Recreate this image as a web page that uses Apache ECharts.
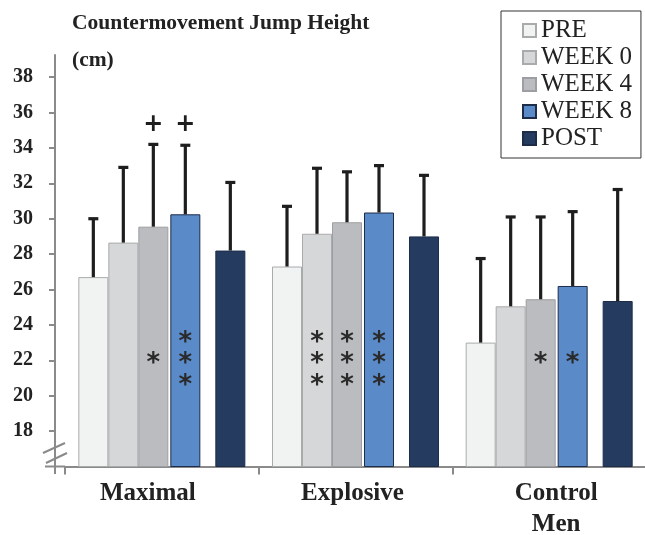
<!DOCTYPE html>
<html><head><meta charset="utf-8">
<script src="https://cdn.jsdelivr.net/npm/echarts@6/dist/echarts.min.js"></script>
<style>html,body{margin:0;padding:0;background:#fff}#c{width:645px;height:535px}</style>
</head><body><div id="c"></div>
<script>
// ---- data ----
const groups = ['Maximal', 'Explosive', 'Control\nMen'];
const seriesNames = ['PRE', 'WEEK 0', 'WEEK 4', 'WEEK 8', 'POST'];
const preMean   = [26.7, 27.3, 23.0];
const week0Mean = [28.65, 29.15, 25.05];
const week4Mean = [29.55, 29.8, 25.45];
const week8Mean = [30.25, 30.35, 26.2];
const postMean  = [28.2, 29.0, 25.35];
const preSD   = [3.3, 3.4, 4.75];
const week0SD = [4.25, 3.7, 5.05];
const week4SD = [4.65, 2.85, 4.65];
const week8SD = [3.9, 2.65, 4.2];
const postSD  = [3.85, 3.45, 6.3];
const yTickValues = [18, 20, 22, 24, 26, 28, 30, 32, 34, 36, 38];
// significance annotations: [groupIndex, seriesIndex, number of asterisks]
const asteriskMarks = [[0, 2, 1], [0, 3, 3], [1, 1, 3], [1, 2, 3], [1, 3, 3], [2, 2, 1], [2, 3, 1]];
// "+" annotations: [groupIndex, seriesIndex]
const plusMarks = [[0, 2], [0, 3]];
const asteriskLevel = 22.15;

// ---- styles ----
const means = [preMean, week0Mean, week4Mean, week8Mean, postMean];
const sds = [preSD, week0SD, week4SD, week8SD, postSD];
const fills = ['#f1f2f2', '#d6d7d9', '#bbbcbf', '#5a8ac7', '#253b5f'];
const borders = ['#a9aaac', '#a9aaac', '#9d9ea1', '#1d2c48', '#1d2c48'];
// slot layout: PRE, W0, W4, spacer, W8, spacer, POST
const slotWidths = [30, 30, 30, 2, 30, 15, 30];
const slotSeries = [0, 1, 2, -1, 3, -1, 4];
const total = slotWidths.reduce((a, b) => a + b, 0);
const offsets = [];
let acc = -total / 2;
slotWidths.forEach((w, i) => { if (slotSeries[i] >= 0) offsets[slotSeries[i]] = acc + w / 2; acc += w; });

const series = [];
slotWidths.forEach((w, i) => {
  const s = slotSeries[i];
  if (s < 0) {
    series.push({ type: 'bar', name: 'spacer' + i, data: groups.map(() => '-'), barWidth: w, barGap: '0%', silent: true });
  } else {
    series.push({
      type: 'bar', name: seriesNames[s], data: means[s], barWidth: w, barGap: '0%',
      itemStyle: { color: fills[s], borderColor: borders[s], borderWidth: 1 }
    });
  }
});

const errData = [];
means.forEach((m, s) => m.forEach((v, g) => errData.push([g, s, v, sds[s][g]])));
series.push({
  type: 'custom', name: 'err', data: errData, encode: { x: 0, y: 2 }, z: 5, silent: true,
  renderItem(params, api) {
    const g = api.value(0), s = api.value(1), m = api.value(2), sd = api.value(3);
    const b = api.coord([g, m]);
    const t = api.coord([g, m + sd]);
    const x = b[0] + offsets[s];
    const st = { stroke: '#1e1e1e', lineWidth: 3.2 };
    return { type: 'group', children: [
      { type: 'line', shape: { x1: x, y1: b[1], x2: x, y2: t[1] }, style: st },
      { type: 'line', shape: { x1: x - 5, y1: t[1], x2: x + 5, y2: t[1] }, style: st }
    ] };
  }
});

series.push({
  type: 'custom', name: 'ast', data: asteriskMarks.map(a => [a[0], a[1], a[2], asteriskLevel]),
  encode: { x: 0, y: 3 }, z: 6, silent: true,
  renderItem(params, api) {
    const g = api.value(0), s = api.value(1), n = api.value(2);
    const p = api.coord([g, api.value(3)]);
    return { type: 'text', x: p[0] + offsets[s], y: p[1] + 7,
      style: { text: Array(n).fill('*').join('\n'), font: 'bold 26px "DejaVu Sans"', fill: '#2a2a2a',
        align: 'center', verticalAlign: 'middle', lineHeight: 21.5 } };
  }
});

series.push({
  type: 'custom', name: 'plus', data: plusMarks.map(a => [a[0], a[1], means[a[1]][a[0]] + sds[a[1]][a[0]]]),
  encode: { x: 0, y: 2 }, z: 6, silent: true,
  renderItem(params, api) {
    const g = api.value(0), s = api.value(1);
    const p = api.coord([g, api.value(2)]);
    return { type: 'text', x: p[0] + offsets[s], y: p[1] - 20,
      style: { text: '+', font: 'bold 24px "DejaVu Sans"', fill: '#1e1e1e', align: 'center', verticalAlign: 'middle' } };
  }
});

const labelFont = { fontFamily: 'Liberation Serif', fontWeight: 'bold', fontSize: 25, lineHeight: 31, color: '#222' };

const chart = echarts.init(document.getElementById('c'), null, { renderer: 'canvas' });
chart.setOption({
  animation: false,
  backgroundColor: '#fff',
  title: {
    text: 'Countermovement Jump Height\n(cm)', left: 67, top: 0,
    textStyle: { fontFamily: 'Liberation Serif', fontWeight: 'bold', fontSize: 21.5, lineHeight: 37, color: '#222' }
  },
  legend: {
    data: seriesNames, orient: 'vertical', left: 501, top: 11, icon: 'rect', itemWidth: 13, itemHeight: 13,
    itemGap: 2, padding: [7, 9, 7, 21], borderColor: '#333', borderWidth: 1, backgroundColor: '#fff',
    textStyle: { fontFamily: 'Liberation Serif', fontSize: 25, lineHeight: 24, color: '#222' },
    selectedMode: false
  },
  grid: { left: 65, width: 581, top: 55, bottom: 68.5, containLabel: false, outerBoundsMode: 'none' },
  xAxis: {
    type: 'category', data: groups,
    axisLine: { lineStyle: { color: '#8a8a8a', width: 2 } },
    axisTick: { show: true, interval: 0, length: 8, lineStyle: { color: '#8a8a8a', width: 2 } },
    axisLabel: Object.assign({}, labelFont, {
      margin: 12, interval: 0, hideOverlap: false,
      formatter: (v, i) => v.split('\n').map(line => '{k' + i + '|' + line + '}').join('\n'),
      rich: {
        k0: Object.assign({}, labelFont, { padding: [0, 28, 0, 0] }),
        k1: Object.assign({}, labelFont, { padding: [0, 6, 0, 0] }),
        k2: Object.assign({}, labelFont, { padding: [0, 0, 0, 14] })
      }
    })
  },
  yAxis: {
    type: 'value', min: 16, max: 39.25, offset: 10,
    axisLine: { show: true, lineStyle: { color: '#8a8a8a', width: 2 } },
    axisTick: { show: true, length: 6, customValues: yTickValues, lineStyle: { color: '#8a8a8a', width: 2 } },
    axisLabel: { customValues: yTickValues, fontFamily: 'Liberation Serif', fontWeight: 'bold', fontSize: 20, color: '#222', margin: 22 },
    splitLine: { show: false }
  },
  graphic: [
    { type: 'line', shape: { x1: 45, y1: 466.5, x2: 65, y2: 466.5 }, style: { stroke: '#8a8a8a', lineWidth: 2 } },
    { type: 'line', shape: { x1: 55, y1: 466, x2: 55, y2: 474 }, style: { stroke: '#8a8a8a', lineWidth: 2 } },
    { type: 'line', shape: { x1: 43, y1: 453, x2: 65, y2: 443 }, style: { stroke: '#8a8a8a', lineWidth: 2 } },
    { type: 'line', shape: { x1: 46, y1: 463, x2: 67, y2: 453 }, style: { stroke: '#8a8a8a', lineWidth: 2 } }
  ],
  series
});
</script></body></html>
